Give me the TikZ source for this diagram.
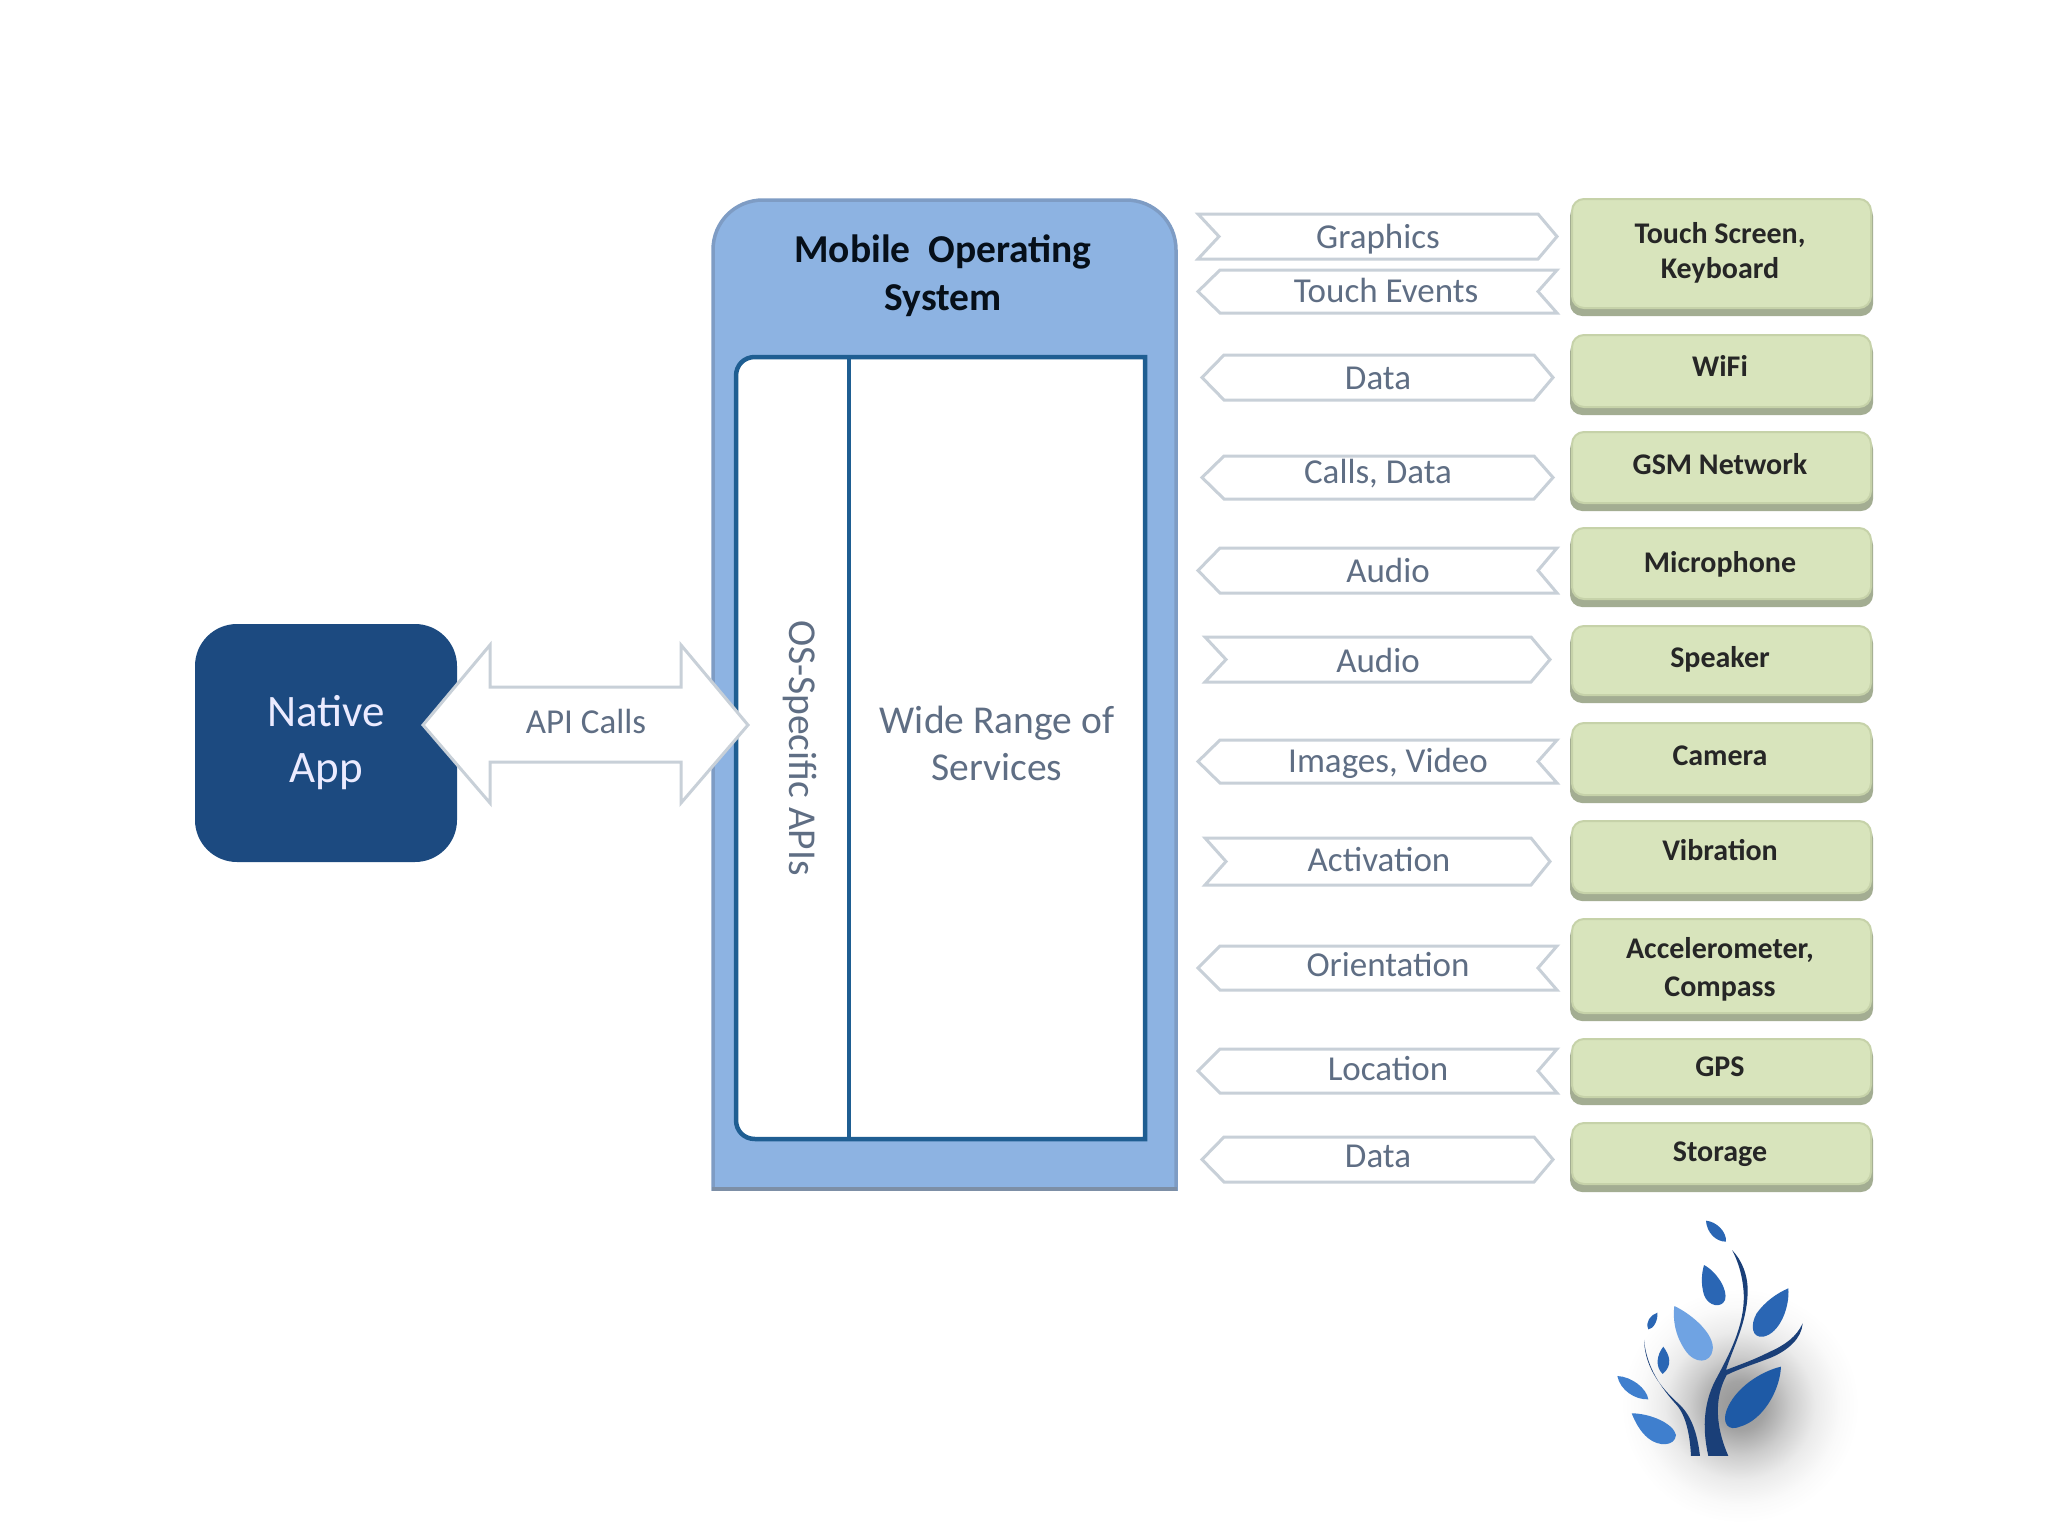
\documentclass[tikz,border=0pt]{standalone}
\usepackage{fontspec}
\setmainfont{Carlito}
\definecolor{navy}{HTML}{1C4A80}
\definecolor{osfill}{HTML}{8DB3E2}
\definecolor{osline}{HTML}{7E9CC4}
\definecolor{osbottom}{HTML}{7D8FA6}
\definecolor{inline}{HTML}{1F5E92}
\definecolor{boxfill}{HTML}{D8E4BC}
\definecolor{boxline}{HTML}{C6D2A9}
\definecolor{boxshadow}{HTML}{A3AD92}
\definecolor{arrowline}{HTML}{C8D0D8}
\definecolor{flowtext}{HTML}{5F6E84}
\definecolor{stemblue}{HTML}{1A3F78}
\pgfdeclareradialshading{logoshadow}{\pgfpointorigin}{color(0bp)=(black!42); color(4bp)=(black!36); color(8bp)=(black!20); color(12bp)=(black!8); color(16bp)=(black!2); color(19bp)=(white); color(50bp)=(white)}
\tikzset{
  x=1pt,y=-1pt,
  flowshape/.style={draw=arrowline,fill=white,line width=3pt,line join=miter},
  flowlabel/.style={text=flowtext,font=\fontsize{35}{40}\selectfont,inner sep=0pt},
  devshadow/.style={draw=none,fill=boxshadow,rounded corners=12pt},
  devbox/.style={draw=boxline,fill=boxfill,line width=2pt,rounded corners=12pt},
  devlabel/.style={text=black!85,font=\bfseries\fontsize{30}{32}\selectfont,inner sep=0pt,align=center},
}
% name, left outer, left inner, right inner, right outer, top, bottom, label, label position
\newcommand{\flowright}[9]{%
  \draw[flowshape] ({#2},{#6}) -- ({#4},{#6}) -- ({#5},{(#6+#7)/2}) -- ({#4},{#7}) -- ({#2},{#7}) -- ({#3},{(#6+#7)/2}) -- cycle;
  \node[flowlabel] (#1) at (#9) {#8};}
\newcommand{\flowleft}[9]{%
  \draw[flowshape] ({#2},{(#6+#7)/2}) -- ({#3},{#6}) -- ({#5},{#6}) -- ({#4},{(#6+#7)/2}) -- ({#5},{#7}) -- ({#3},{#7}) -- cycle;
  \node[flowlabel] (#1) at (#9) {#8};}
\newcommand{\flowboth}[9]{%
  \draw[flowshape] ({#2},{(#6+#7)/2}) -- ({#3},{#6}) -- ({#4},{#6}) -- ({#5},{(#6+#7)/2}) -- ({#4},{#7}) -- ({#3},{#7}) -- cycle;
  \node[flowlabel] (#1) at (#9) {#8};}
% name, top, bottom, label, label y
\newcommand{\device}[5]{%
  \path[devshadow] (1570,{#2+5}) rectangle (1873,#3);
  \path[devbox] (1572,#2) rectangle (1871,{#3-8});
  \node[devlabel] (#1) at (1720,#5) {#4};}
\begin{document}
\begin{tikzpicture}
\useasboundingbox (0,0) rectangle (2048,1536);
\fill[white] (0,0) rectangle (2048,1536);

% Native App
\node[draw=none,fill=navy,rounded corners=42pt,minimum width=262pt,minimum height=238pt,inner sep=0pt,
      text=blue!8!white,font=\fontsize{45}{56}\selectfont,align=center] (native) at (326,743) {Native\\App};

% Mobile OS
\path[fill=osfill,draw=osline,line width=3.5pt] (713,1189) -- (713,250)
  .. controls (713,222) and (735,200) .. (763,200) -- (1126,200)
  .. controls (1154,200) and (1176,222) .. (1176,250) -- (1176,1189) -- cycle;
\coordinate (osbl) at (712,1189);
\coordinate (osbr) at (1177,1189);
\draw[osbottom,line width=4pt] (osbl) -- (osbr);
\node[inner sep=0pt,align=center,text=black!80!navy,font=\bfseries\fontsize{39.5}{48}\selectfont] (ostitle) at (943,276) {Mobile\ \ Operating\\System};
\path[fill=white,draw=inline,line width=4.5pt] (1145,357) -- (755,357)
  .. controls (744,357) and (736,365) .. (736,376) -- (736,1120)
  .. controls (736,1131) and (744,1139) .. (755,1139) -- (1145,1139) -- cycle;
\coordinate (divtop) at (849,357);
\coordinate (divbot) at (849,1139);
\draw[draw=inline,line width=4.5pt] (divtop) -- (divbot);
\node[inner sep=0pt,rotate=-90,text=flowtext,font=\fontsize{39.5}{44}\selectfont] (apis) at (800,748) {OS-Specific APIs};
\node[inner sep=0pt,align=center,text=flowtext,font=\fontsize{39.5}{47}\selectfont] (services) at (997,743) {Wide Range of\\Services};

% API Calls arrow
\draw[flowshape] (423,725) -- (490,645) -- (490,687) -- (681,687) -- (681,645) -- (748,725)
  -- (681,803) -- (681,762) -- (490,762) -- (490,803) -- cycle;
\node[flowlabel] (api) at (586,721) {API Calls};

% Flow arrows
\flowright{fa}{1198}{1219}{1538}{1557}{214}{259}{Graphics}{1378,239}
\flowleft{fb}{1198}{1220}{1538}{1557}{270}{313}{Touch Events}{1386,290}
\flowboth{fc}{1202}{1224}{1534}{1553}{355}{400}{Data}{1378,378}
\flowboth{fd}{1202}{1224}{1534}{1553}{456}{499}{Calls, Data}{1378,474}
\flowleft{fe}{1198}{1220}{1538}{1557}{548}{593}{Audio}{1388,570}
\flowright{ff}{1205}{1226}{1531}{1550}{637}{682}{Audio}{1378,660}
\flowleft{fg}{1198}{1220}{1538}{1557}{740}{783}{Images, Video}{1388,763}
\flowright{fh}{1205}{1226}{1531}{1550}{838}{885}{Activation}{1379,860}
\flowleft{fi}{1198}{1220}{1538}{1557}{946}{990}{Orientation}{1388,965}
\flowleft{fj}{1198}{1220}{1538}{1557}{1049}{1093}{Location}{1388,1069}
\flowboth{fk}{1202}{1224}{1534}{1553}{1137}{1182}{Data}{1378,1156}

% Devices
\device{da}{199}{316}{Touch Screen,\\[3pt]Keyboard}{253}
\device{db}{335}{415}{WiFi}{366}
\device{dc}{432}{511}{GSM Network}{464}
\device{dd}{528}{607}{Microphone}{564}
\device{de}{626}{703}{Speaker}{659}
\device{df}{723}{803}{Camera}{756}
\device{dg}{821}{901}{Vibration}{850}
\device{dh}{919}{1021}{Accelerometer,\\[6pt]Compass}{969}
\device{di}{1039}{1105}{GPS}{1067}
\device{dj}{1123}{1192}{Storage}{1154}

% Logo
\begin{scope}[shift={(1580pt,-1200pt)},x=0.3333pt,y=-0.3333pt]
  \path[shading=logoshadow,rotate around={25:(480,570)}] (480,570) ellipse [x radius=400,y radius=460];
  \definecolor{leafa}{HTML}{2A66B4}
  \definecolor{leafb}{HTML}{6FA3E3}
  \definecolor{leafc}{HTML}{1E5AA6}
  \definecolor{leafd}{HTML}{3F7FCE}
  % stems
  \fill[stemblue] (385,768) .. controls (365,680) and (372,600) .. (412,530)
    .. controls (455,450) and (500,360) .. (490,265) .. controls (485,215) and (470,175) .. (456,150)
    .. controls (485,180) and (505,225) .. (503,280) .. controls (500,370) and (460,440) .. (438,510)
    .. controls (490,490) and (520,480) .. (570,455) .. controls (615,435) and (650,410) .. (668,370)
    .. controls (665,415) and (625,450) .. (575,472) .. controls (530,490) and (480,505) .. (440,525)
    .. controls (410,580) and (398,660) .. (445,768) -- cycle;
  \fill[stemblue] (192,420) .. controls (200,500) and (240,560) .. (290,615)
    .. controls (320,650) and (330,710) .. (333,768) -- (360,768)
    .. controls (352,700) and (335,650) .. (300,615) .. controls (250,570) and (195,510) .. (192,420) -- cycle;
  % leaves
  \fill[leafa] (378,62) .. controls (410,65) and (440,95) .. (438,125) .. controls (405,125) and (380,95) .. (378,62) -- cycle;
  \fill[leafa] (372,195) .. controls (410,215) and (445,270) .. (435,300) .. controls (425,325) and (385,320) .. (372,285) .. controls (362,250) and (365,220) .. (372,195) -- cycle;
  \fill[leafb] (283,318) .. controls (340,345) and (405,405) .. (398,450) .. controls (392,490) and (345,495) .. (315,450) .. controls (285,405) and (278,360) .. (283,318) -- cycle;
  \fill[leafa] (625,265) .. controls (630,320) and (600,400) .. (550,410) .. controls (515,415) and (510,375) .. (530,340) .. controls (555,305) and (590,280) .. (625,265) -- cycle;
  \fill[leafc] (603,500) .. controls (600,570) and (550,660) .. (480,680) .. controls (445,695) and (425,670) .. (440,630) .. controls (465,565) and (540,515) .. (603,500) -- cycle;
  \fill[leafa] (232,338) .. controls (235,360) and (220,388) .. (205,388) .. controls (195,365) and (212,345) .. (232,338) -- cycle;
  \fill[leafa] (250,440) .. controls (268,465) and (280,495) .. (248,522) .. controls (225,500) and (230,465) .. (250,440) -- cycle;
  \fill[leafd] (112,528) .. controls (155,530) and (200,565) .. (205,598) .. controls (165,600) and (120,570) .. (112,528) -- cycle;
  \fill[leafd] (155,640) .. controls (210,640) and (280,670) .. (288,705) .. controls (285,740) and (235,740) .. (205,715) .. controls (180,695) and (165,665) .. (155,640) -- cycle;
\end{scope}
\end{tikzpicture}
\end{document}
